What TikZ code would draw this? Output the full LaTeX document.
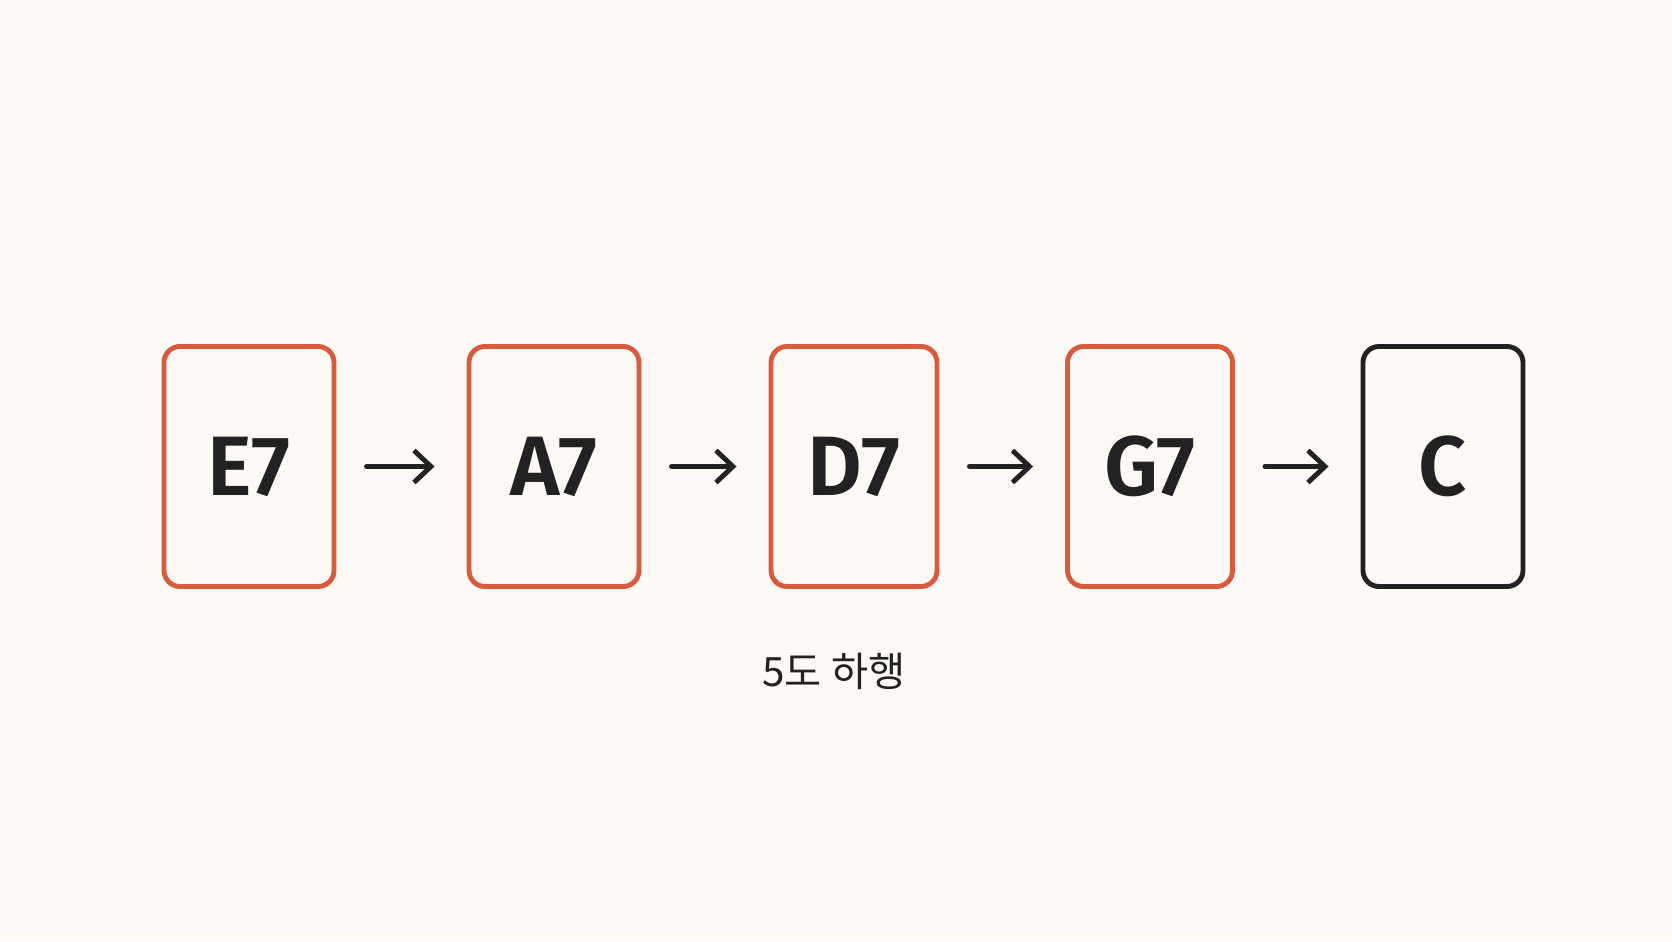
\documentclass[tikz,border=0pt]{standalone}
\usepackage{fontspec}
\setmainfont{Fira Sans}[BoldFont={Fira Sans SemiBold}]
\newfontfamily\kor{Noto Sans CJK KR}
\usetikzlibrary{arrows.meta}
\definecolor{paper}{HTML}{FDFAF5}
\definecolor{rust}{HTML}{D95B3E}
\definecolor{ink}{HTML}{222222}
\tikzset{
  chord/.style={draw=rust,line width=1.4pt,rounded corners=1.6mm,minimum width=1.7cm,minimum height=2.4cm,
    text=ink,font=\fontsize{24}{24}\selectfont\bfseries},
  tonic/.style={chord,draw=ink},
  goes/.style={-{Straight Barb[length=1.7mm,width=3.2mm]},line width=1.4pt,line cap=round,line join=round,ink,
    shorten <=3mm,shorten >=3.2mm}
}
\begin{document}
\begin{tikzpicture}
      \fill[paper] (0,0) rectangle (16.72,9.41);
      \useasboundingbox (0,0) rectangle (16.72,9.41);
      \node[chord] (e7) at (2.49,4.745) {E7};
      \node[chord] (a7) at (5.54,4.745) {A7};
      \node[chord,minimum width=1.66cm] (d7) at (8.54,4.745) {D7};
      \node[chord,minimum width=1.65cm] (g7) at (11.50,4.745) {G7};
      \node[tonic,minimum width=1.6cm] (c) at (14.43,4.745) {C};
      \draw[goes] (e7) -- (a7);
      \draw[goes] (a7) -- (d7);
      \draw[goes] (d7) -- (g7);
      \draw[goes] (g7) -- (c);
      \node[text=ink,font=\kor\fontsize{11.5}{11.5}\selectfont] (desc) at (8.34,2.70) {5도 하행};
\end{tikzpicture}
\end{document}
